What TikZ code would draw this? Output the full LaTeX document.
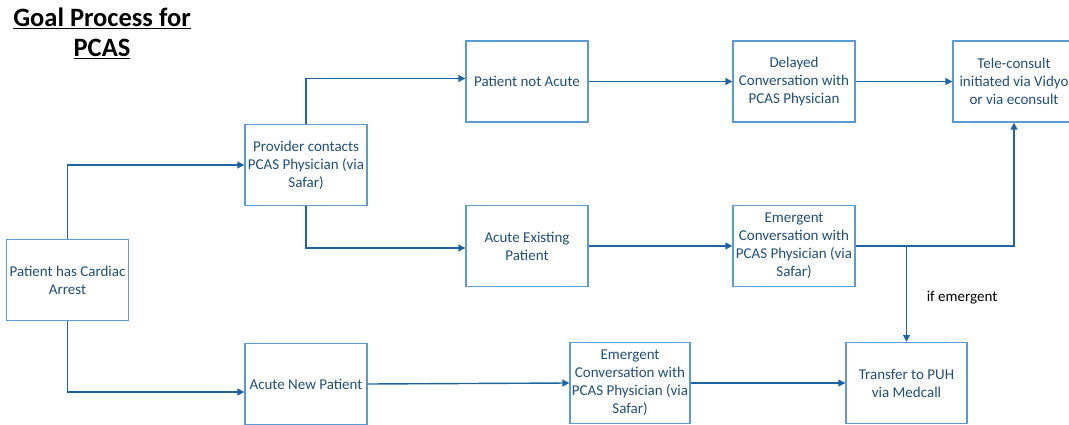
\documentclass[tikz,border=0pt]{standalone}
\usepackage{fontspec}
\setmainfont{Carlito}
\usetikzlibrary{arrows.meta}
\definecolor{boxline}{RGB}{91,155,213}
\definecolor{boxtext}{RGB}{31,78,121}
\definecolor{connc}{RGB}{30,100,160}
\begin{document}
\begin{tikzpicture}[x=1pt,y=-1pt,
  box/.style={draw=boxline, line width=1.4pt, minimum width=122pt, minimum height=81pt,
    align=center, inner sep=0pt, text=boxtext,
    font=\fontsize{15}{18}\selectfont},
  conn/.style={draw=connc, line width=1.4pt, -{Triangle[length=7pt,width=7pt]}},
  lbl/.style={font=\fontsize{15}{17}\selectfont, text=black, inner sep=0pt},
  ttl/.style={font=\bfseries\fontsize{26.5}{30}\selectfont, align=center, inner sep=0pt}
]
\useasboundingbox (0,0) rectangle (1069,425);
\clip (0,0) rectangle (1069,425);

\node[ttl] (title) at (102,33) {\underline{Goal Process for}\\\underline{PCAS}};

\node[box] (cardiac) at (67.5,280) {Patient has Cardiac\\Arrest};
\node[box] (provider) at (306,165) {Provider contacts\\PCAS Physician (via\\Safar)};
\node[box] (notacute) at (527,81.5) {Patient not Acute};
\node[box] (delayed) at (794,81.5) {Delayed\\Conversation with\\PCAS Physician};
\node[box] (tele) at (1014,81.5) {Tele-consult\\initiated via Vidyo\\or via econsult};
\node[box] (existing) at (527,246) {Acute Existing\\Patient};
\node[box] (emmid) at (794,246) {Emergent\\Conversation with\\PCAS Physician (via\\Safar)};
\node[box] (newpat) at (306,384) {Acute New Patient};
\node[box, minimum width=120pt] (embot) at (630,383) {Emergent\\Conversation with\\PCAS Physician (via\\Safar)};
\node[box, minimum width=121pt] (transfer) at (906.5,383) {Transfer to PUH\\via Medcall};

\node[lbl] (ifem) at (962,298) {if emergent};

\draw[conn] (cardiac.north) |- (provider.west);
\draw[conn] (cardiac.south) |- ([yshift=-8pt]newpat.west);
\draw[conn] (provider.north) |- ([yshift=3pt]notacute.west);
\draw[conn] (provider.south) |- ([yshift=-2pt]existing.west);
\draw[conn] (notacute.east) -- (delayed.west);
\draw[conn] (delayed.east) -- (tele.west);
\draw[conn] (existing.east) -- (emmid.west);
\draw[conn] (emmid.east) -| (tele.south);
\coordinate (junc) at (emmid.east -| transfer.north);
\draw[conn] (junc) -- (transfer.north);
\draw[conn] (newpat.east) -- (embot.west);
\draw[conn] (embot.east) -- (transfer.west);
\end{tikzpicture}
\end{document}
